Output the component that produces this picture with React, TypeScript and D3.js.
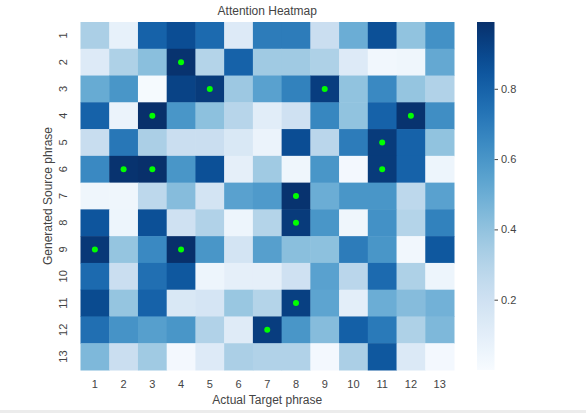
import React, { useEffect, useRef } from "react";
import * as d3 from "d3";

const targetLabels = ["1", "2", "3", "4", "5", "6", "7", "8", "9", "10", "11", "12", "13"];
const sourceLabels = ["1", "2", "3", "4", "5", "6", "7", "8", "9", "10", "11", "12", "13"];

// attention weights, one row per generated source phrase
const attention = [
  [0.33, 0.08, 0.8, 0.88, 0.77, 0.13, 0.7, 0.7, 0.22, 0.5, 0.87, 0.4, 0.62],
  [0.13, 0.32, 0.42, 0.98, 0.3, 0.8, 0.36, 0.36, 0.32, 0.13, 0.03, 0.04, 0.52],
  [0.51, 0.6, 0.01, 0.92, 0.95, 0.37, 0.55, 0.68, 0.94, 0.4, 0.65, 0.39, 0.31],
  [0.8, 0.06, 0.99, 0.6, 0.41, 0.29, 0.11, 0.2, 0.66, 0.4, 0.8, 0.98, 0.63],
  [0.23, 0.72, 0.33, 0.22, 0.22, 0.15, 0.06, 0.88, 0.28, 0.7, 0.95, 0.8, 0.4],
  [0.65, 0.98, 0.99, 0.6, 0.87, 0.09, 0.36, 0.04, 0.6, 0.02, 0.95, 0.8, 0.05],
  [0.04, 0.04, 0.27, 0.43, 0.18, 0.55, 0.58, 0.98, 0.5, 0.6, 0.6, 0.27, 0.55],
  [0.85, 0.05, 0.87, 0.2, 0.31, 0.05, 0.3, 0.95, 0.6, 0.04, 0.62, 0.3, 0.68],
  [0.96, 0.39, 0.65, 0.99, 0.6, 0.18, 0.56, 0.42, 0.41, 0.7, 0.6, 0.03, 0.84],
  [0.77, 0.22, 0.75, 0.84, 0.05, 0.09, 0.09, 0.2, 0.55, 0.28, 0.77, 0.32, 0.05],
  [0.89, 0.39, 0.8, 0.15, 0.17, 0.38, 0.3, 0.93, 0.54, 0.1, 0.5, 0.43, 0.48],
  [0.75, 0.61, 0.56, 0.6, 0.31, 0.12, 0.94, 0.6, 0.43, 0.81, 0.71, 0.32, 0.45],
  [0.45, 0.22, 0.36, 0.02, 0.13, 0.33, 0.31, 0.31, 0.02, 0.33, 0.84, 0.14, 0.02],
];

// highlighted cells [row, col], 1-based
const markers = [
  [2, 4], [3, 5], [3, 9], [4, 3], [4, 12], [5, 11], [6, 2], [6, 3],
  [6, 11], [7, 8], [8, 8], [9, 1], [9, 4], [11, 8], [12, 7],
];

const colorTicks = [0.2, 0.4, 0.6, 0.8];

export default function App() {
  const ref = useRef<SVGSVGElement>(null);

  useEffect(() => {
    const width = 586;
    const height = 413;
    const m = { top: 22, left: 80.5, right: 132, bottom: 43 };
    const svg = d3.select(ref.current);
    svg.selectAll("*").remove();

    const font = "Liberation Sans, Arial, sans-serif";
    const textColor = "#444";

    const x = d3.scaleBand().domain(targetLabels).range([m.left, width - m.right]);
    const y = d3.scaleBand().domain(sourceLabels).range([m.top, height - m.bottom]);
    const color = d3.scaleSequential(d3.interpolateBlues).domain([0, 0.99]);

    const cells = attention.flatMap((row, i) =>
      row.map((v, j) => ({ r: sourceLabels[i], c: targetLabels[j], v }))
    );

    svg
      .append("g")
      .selectAll("rect")
      .data(cells)
      .join("rect")
      .attr("x", (d) => x(d.c)!)
      .attr("y", (d) => y(d.r)!)
      .attr("width", x.bandwidth() + 0.5)
      .attr("height", y.bandwidth() + 0.5)
      .attr("fill", (d) => color(d.v));

    svg
      .append("g")
      .selectAll("circle")
      .data(markers)
      .join("circle")
      .attr("cx", (d) => x(targetLabels[d[1] - 1])! + x.bandwidth() / 2)
      .attr("cy", (d) => y(sourceLabels[d[0] - 1])! + y.bandwidth() / 2)
      .attr("r", 3)
      .attr("fill", "#00ff00");

    // x axis (no tick marks, like seaborn's heatmap style)
    const xAxis = svg
      .append("g")
      .attr("transform", `translate(0,${height - m.bottom})`)
      .call(d3.axisBottom(x).tickSize(0).tickPadding(10));
    xAxis.select(".domain").remove();
    xAxis.selectAll("text").attr("font-size", 11).attr("font-family", font).attr("fill", textColor);

    // y axis, rotated labels
    const yAxis = svg
      .append("g")
      .attr("transform", `translate(${m.left},0)`)
      .call(d3.axisLeft(y).tickSize(0));
    yAxis.select(".domain").remove();
    yAxis
      .selectAll("text")
      .attr("font-size", 11)
      .attr("font-family", font)
      .attr("fill", textColor)
      .attr("x", null)
      .attr("dy", null)
      .attr("text-anchor", "middle")
      .attr("transform", "translate(-14,0) rotate(-90)");

    svg
      .append("text")
      .attr("x", (m.left + width - m.right) / 2)
      .attr("y", 15)
      .attr("text-anchor", "middle")
      .attr("font-size", 12)
      .attr("font-family", font)
      .attr("fill", textColor)
      .text("Attention Heatmap");

    svg
      .append("text")
      .attr("x", (m.left + width - m.right) / 2)
      .attr("y", 404)
      .attr("text-anchor", "middle")
      .attr("font-size", 12)
      .attr("font-family", font)
      .attr("fill", textColor)
      .text("Actual Target phrase");

    svg
      .append("text")
      .attr("transform", `translate(52,${(m.top + height - m.bottom) / 2}) rotate(-90)`)
      .attr("text-anchor", "middle")
      .attr("font-size", 12)
      .attr("font-family", font)
      .attr("fill", textColor)
      .text("Generated Source phrase");

    // colorbar
    const cbX = 477;
    const cbW = 17.5;
    const cb = d3.scaleLinear().domain([0, 0.99]).range([height - m.bottom, m.top]);
    const grad = svg
      .append("defs")
      .append("linearGradient")
      .attr("id", "cbgrad")
      .attr("x1", 0)
      .attr("y1", 1)
      .attr("x2", 0)
      .attr("y2", 0);
    d3.range(0, 1.0001, 0.05).forEach((t) => {
      grad.append("stop").attr("offset", t).attr("stop-color", d3.interpolateBlues(t));
    });
    svg
      .append("rect")
      .attr("x", cbX)
      .attr("y", m.top)
      .attr("width", cbW)
      .attr("height", height - m.bottom - m.top)
      .attr("fill", "url(#cbgrad)");

    const cbAxis = svg
      .append("g")
      .attr("transform", `translate(${cbX + cbW},0)`)
      .call(d3.axisRight(cb).tickValues(colorTicks).tickFormat(d3.format(".1f")).tickSize(3.5).tickPadding(3));
    cbAxis.select(".domain").remove();
    cbAxis.selectAll("line").attr("stroke", textColor);
    cbAxis.selectAll("text").attr("font-size", 11).attr("font-family", font).attr("fill", textColor);

    svg
      .append("rect")
      .attr("x", 0)
      .attr("y", 410)
      .attr("width", width)
      .attr("height", 3)
      .attr("fill", "#ececec");
  }, []);

  return (
    <div style={{ position: "absolute", left: 0, top: 0 }}>
      <svg ref={ref} width={586} height={413} style={{ display: "block", background: "#fff" }} />
    </div>
  );
}
